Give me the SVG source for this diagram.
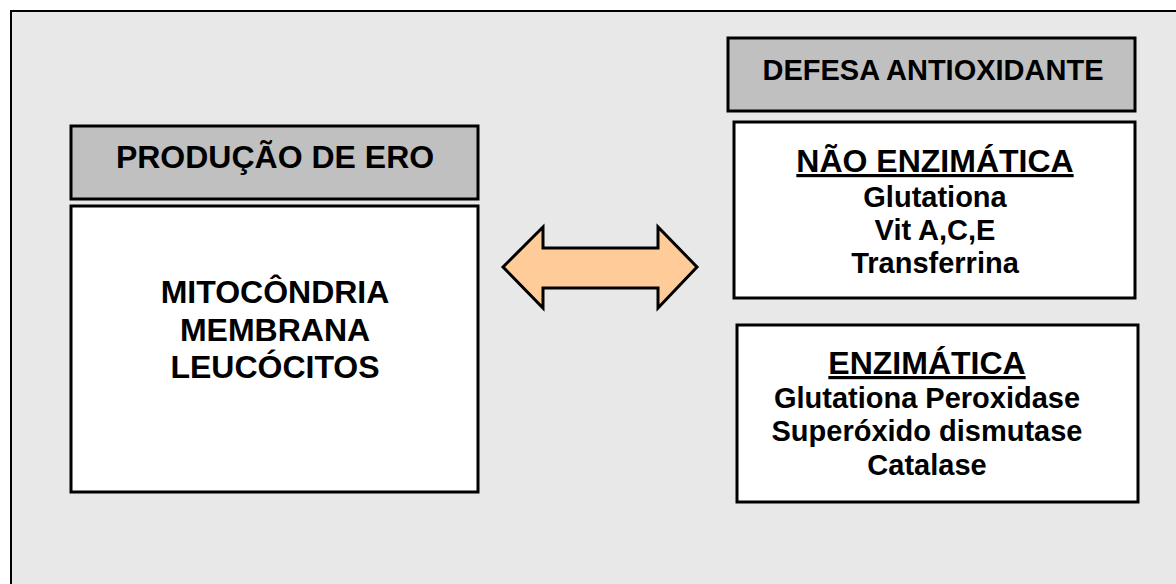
<svg xmlns="http://www.w3.org/2000/svg" width="1176" height="584" viewBox="0 0 1176 584">
<style>
text{font-family:"Liberation Sans",Arial,sans-serif;font-weight:bold;fill:#000;text-anchor:middle}
.box{stroke:#000;stroke-width:3}
.hdr{fill:#C0C0C0}
.body{fill:#FFFFFF}
.big{font-size:32px}
.item{font-size:29px}
.u{text-decoration:underline}
</style>
<rect x="0" y="0" width="1176" height="584" fill="#FFFFFF"/>
<rect id="frame" x="11" y="11" width="1180" height="590" fill="#E8E8E8" stroke="#000" stroke-width="2"/>
<g id="producao-header">
<rect class="box hdr" x="71" y="126" width="407" height="73"/>
<text class="big" x="275" y="168">PRODUÇÃO DE ERO</text>
</g>
<g id="producao-body">
<rect class="box body" x="71" y="206" width="407" height="286"/>
<text class="big" x="275" y="303">MITOCÔNDRIA</text>
<text class="big" x="275" y="341">MEMBRANA</text>
<text class="big" x="275" y="378">LEUCÓCITOS</text>
</g>
<g id="defesa-header">
<rect class="box hdr" x="728" y="38" width="407" height="73"/>
<text class="item" x="933" y="80">DEFESA ANTIOXIDANTE</text>
</g>
<g id="nao-enzimatica">
<rect class="box body" x="734" y="122" width="401" height="176"/>
<text class="big u" x="935" y="172">NÃO ENZIMÁTICA</text>
<text class="item" x="935" y="207">Glutationa</text>
<text class="item" x="935" y="240">Vit A,C,E</text>
<text class="item" x="935" y="273">Transferrina</text>
</g>
<g id="enzimatica">
<rect class="box body" x="737" y="325" width="401" height="177"/>
<text class="big u" x="927" y="374">ENZIMÁTICA</text>
<text class="item" x="927" y="408">Glutationa Peroxidase</text>
<text class="item" x="927" y="441">Superóxido dismutase</text>
<text class="item" x="927" y="475">Catalase</text>
</g>
<g id="connectors">
<polygon points="503,267 543,227 543,248 658,248 658,227 697,267 658,308 658,288 543,288 543,308" fill="#FFCC99" stroke="#000" stroke-width="3"/>
</g>
</svg>
